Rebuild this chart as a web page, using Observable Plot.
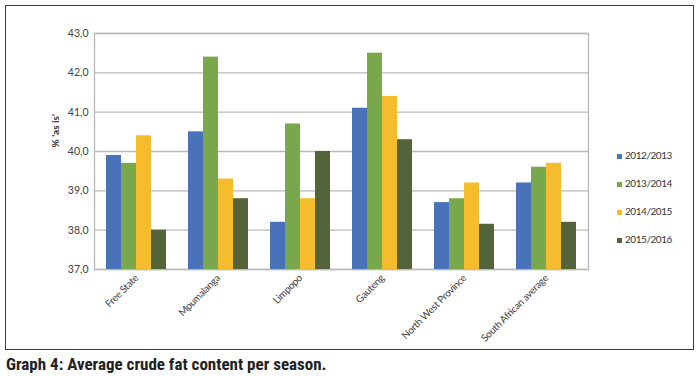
<!DOCTYPE html>
<html>
<head>
<meta charset="utf-8">
<script src="https://cdn.jsdelivr.net/npm/d3@7"></script>
<script src="https://cdn.jsdelivr.net/npm/@observablehq/plot@0.6"></script>
<style>
  html, body { margin: 0; padding: 0; background: #fff; }
  #wrap { position: relative; width: 700px; height: 376px; overflow: hidden; font-family: Lato, "Open Sans", sans-serif; }
  #box { position: absolute; left: 5px; top: 5px; width: 687px; height: 343px; border: 1.6px solid #3a3a3a; }
  .layer { position: absolute; left: 0; top: 0; }
  #legend { position: absolute; left: 617px; top: 149px; font-size: 10px; letter-spacing: -0.45px; color: #333; }
  #legend div { height: 28px; display: flex; align-items: flex-start; }
  #legend span.sw { display: inline-block; width: 5px; height: 5px; margin-right: 3px; margin-top: 4.5px; }
  #caption { position: absolute; left: 6px; top: 356px; line-height: 17px; font-family: "Liberation Sans Narrow", "Roboto Condensed", Roboto, sans-serif; font-stretch: condensed; font-weight: bold; font-size: 17px; color: #222; white-space: nowrap; }
</style>
</head>
<body>
<div id="wrap">
  <div id="box"></div>
  <div id="bg" class="layer"></div>
  <div id="fg" class="layer"></div>
  <div id="legend"></div>
  <div id="caption">Graph 4: Average crude fat content per season.</div>
</div>
<script>
const regions = ["Free State", "Mpumalanga", "Limpopo", "Gauteng", "North West Province", "South African average"];
const seasons = ["2012/2013", "2013/2014", "2014/2015", "2015/2016"];
const s2012 = [39.9, 40.5, 38.2, 41.1, 38.7, 39.2];
const s2013 = [39.7, 42.4, 40.7, 42.5, 38.8, 39.6];
const s2014 = [40.4, 39.3, 38.8, 41.4, 39.2, 39.7];
const s2015 = [38.0, 38.8, 40.0, 40.3, 38.15, 38.2];
const colors = ["#4a72b8", "#78a84b", "#f5bd2d", "#53643a"];
const yTicks = [37, 38, 39, 40, 41, 42, 43];
const yLabel = "% 'as is'";

const series = [s2012, s2013, s2014, s2015];
const data = [];
regions.forEach((r, i) => seasons.forEach((s, j) => data.push({region: r, season: s, value: series[j][i]})));

const W = 700, H = 350;
const M = {top: 33, right: 112, bottom: 81, left: 94};
const yDomain = [yTicks[0], yTicks[yTicks.length - 1]];
const fmt = d => d.toFixed(1).replace(".", ",");

const bg = Plot.plot({
  width: W, height: H,
  marginTop: M.top, marginRight: M.right, marginBottom: M.bottom, marginLeft: M.left,
  style: {background: "transparent", fontFamily: "Lato, sans-serif", fontSize: "10.5px", color: "#404040"},
  x: {domain: regions, axis: null},
  y: {domain: yDomain, axis: null},
  marks: [
    Plot.gridY(yTicks, {stroke: "#b8b8b8", strokeOpacity: 1, strokeWidth: 1.3}),
    Plot.frame({stroke: "#b8b8b8", strokeWidth: 1.3}),
    Plot.axisY(yTicks, {tickFormat: fmt, tickSize: 0, tickPadding: 6, label: null, fontSize: 10.5, fill: "#404040"}),
    Plot.text([yLabel], {frameAnchor: "left", dx: -38.5, dy: -4, rotate: -90, fontWeight: "bold", fontSize: 10, fill: "#333"})
  ]
});
document.getElementById("bg").appendChild(bg);

const fg = Plot.plot({
  width: W, height: H,
  marginTop: M.top, marginRight: M.right, marginBottom: M.bottom, marginLeft: M.left,
  style: {background: "transparent", fontFamily: "Lato, sans-serif", fontSize: "10px", color: "#404040", letterSpacing: "-0.3px"},
  fx: {domain: regions, paddingInner: 0.27, paddingOuter: 0.135, tickRotate: -45, tickSize: 0, tickPadding: 7, label: null},
  x: {domain: seasons, padding: 0, axis: null},
  y: {domain: yDomain, axis: null},
  color: {domain: seasons, range: colors},
  marks: [
    Plot.rectY(data, {fx: "region", x: "season", y1: () => yDomain[0], y2: "value", fill: "season"})
  ]
});
document.getElementById("fg").appendChild(fg);

const legend = document.getElementById("legend");
seasons.forEach((s, i) => {
  const row = document.createElement("div");
  const sw = document.createElement("span");
  sw.className = "sw";
  sw.style.background = colors[i];
  row.appendChild(sw);
  row.appendChild(document.createTextNode(s));
  legend.appendChild(row);
});
</script>
</body>
</html>
